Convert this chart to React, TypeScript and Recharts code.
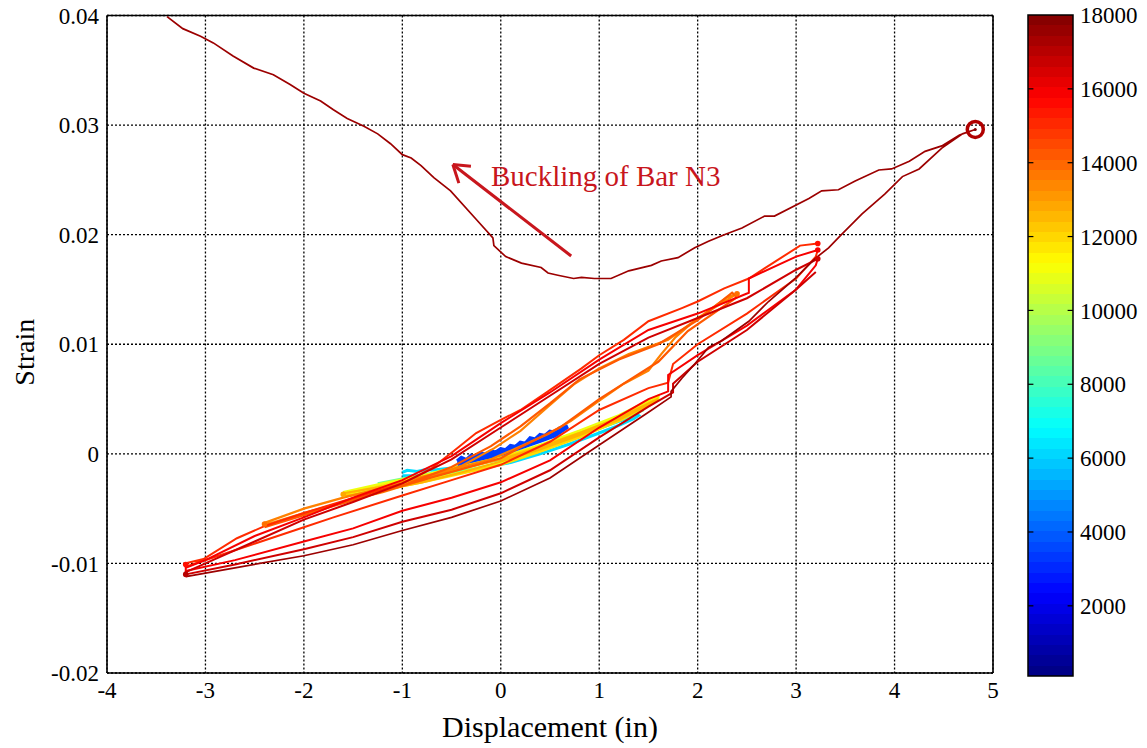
import React from 'react';
import {
  LineChart,
  Line,
  XAxis,
  YAxis,
  CartesianGrid,
  ReferenceLine,
  ReferenceDot,
  ReferenceArea,
} from 'recharts';

type P = [number, number];

// ---------- axes / ticks ----------
const xTicks = [-4, -3, -2, -1, 0, 1, 2, 3, 4, 5];
const yTicks = [-0.02, -0.01, 0, 0.01, 0.02, 0.03, 0.04];
const cbTicks = [2000, 4000, 6000, 8000, 10000, 12000, 14000, 16000, 18000];
const CB_MIN = 100;
const CB_MAX = 18000;

// ---------- series (displacement in, strain) ----------
const blueValue = 3400;
const blueLoop: P[] = [
  [-0.44, -0.0007], [-0.4, -0.0004], [-0.35, -0.0006], [-0.3, -0.0002], [-0.25, -0.0003],
  [-0.2, 0.0], [-0.15, -0.0001], [-0.1, 0.0002], [-0.05, 0.0001], [0, 0.0004], [0.05, 0.0003],
  [0.1, 0.0007], [0.15, 0.0006], [0.2, 0.001], [0.25, 0.0009], [0.3, 0.0014], [0.35, 0.0013],
  [0.4, 0.0017], [0.45, 0.0016], [0.5, 0.002], [0.55, 0.0019], [0.6, 0.0023], [0.68, 0.0025],
  [0.55, 0.0017], [0.4, 0.0012], [0.2, 0.0006], [0, 0.0], [-0.2, -0.0004], [-0.44, -0.0009],
];

const cyanValue = 6200;
const cyanLoop: P[] = [
  [-1.0, -0.0017], [-0.95, -0.0015], [-0.85, -0.0016], [-0.75, -0.0014], [-0.7, -0.0015],
  [-0.5, -0.0013], [-0.3, -0.001], [0, -0.0005], [0.3, 0.0003], [0.6, 0.0012], [0.9, 0.002],
  [1.15, 0.0028], [1.3, 0.0033], [1.35, 0.0038], [1.4, 0.0035], [1.35, 0.0032], [1.2, 0.0026],
  [1.0, 0.0019], [0.7, 0.0009], [0.4, 0.0], [0.1, -0.0008], [-0.2, -0.0013],
  [-0.5, -0.0018], [-0.8, -0.002], [-1.0, -0.002],
];

const greenValue = 8800;
const greenLoop: P[] = [
  [-1.25, -0.0027], [-0.9, -0.0021], [-0.5, -0.0014], [-0.1, -0.0006], [0.3, 0.0004],
  [0.7, 0.0016], [1.1, 0.0029], [1.45, 0.004], [1.2, 0.003], [0.8, 0.0016], [0.4, 0.0003],
  [0, -0.0008], [-0.4, -0.0016], [-0.8, -0.0023], [-1.25, -0.003],
];

const yellowValue = 11000;
const yellowLoop: P[] = [
  [-1.6, -0.0035], [-1.2, -0.0027], [-0.8, -0.002], [-0.4, -0.0011], [0, -0.0003],
  [0.4, 0.0008], [0.8, 0.0021], [1.2, 0.0035], [1.6, 0.0053], [1.6, 0.0049], [1.2, 0.0031],
  [0.8, 0.0017], [0.4, 0.0004], [0, -0.0008], [-0.4, -0.0017], [-0.8, -0.0025], [-1.2, -0.0032],
  [-1.6, -0.0038],
];

const yellow2Value = 11900;
const yellow2Loop: P[] = [
  [-1.6, -0.0037], [-1.2, -0.0029], [-0.8, -0.0021], [-0.4, -0.0013], [0, -0.0004],
  [0.4, 0.0007], [0.8, 0.0019], [1.2, 0.0033], [1.58, 0.005], [1.55, 0.0046], [1.2, 0.003],
  [0.8, 0.0015], [0.4, 0.0002], [0, -0.001], [-0.4, -0.0018], [-0.8, -0.0026], [-1.2, -0.0033],
  [-1.6, -0.0039],
];

const orange1Value = 12600;
const orange1Loop: P[] = [
  [-1.6, -0.0036], [-1.2, -0.003], [-0.8, -0.0023], [-0.4, -0.0014], [0, -0.0005],
  [0.4, 0.0006], [0.8, 0.0019], [1.2, 0.0033], [1.6, 0.005], [1.55, 0.0047], [1.2, 0.0031],
  [0.8, 0.0017], [0.4, 0.0004], [0, -0.0007], [-0.4, -0.0017], [-0.8, -0.0026], [-1.2, -0.0033],
  [-1.6, -0.0039],
];

const orange2Value = 13500;
const orange2Loop: P[] = [
  [-2.4, -0.0063], [-2.0, -0.005], [-1.6, -0.004], [-1.2, -0.0031], [-0.8, -0.0021],
  [-0.4, -0.0012], [-0.1, -0.0005], [0.13, 0.0004], [0.48, 0.0018], [0.71, 0.003],
  [0.99, 0.0048], [1.25, 0.0064], [1.5, 0.0076], [1.63, 0.0091], [1.77, 0.0106], [2.0, 0.0124],
  [2.2, 0.0135], [2.4, 0.0146], [2.3, 0.0143], [2.1, 0.013], [1.7, 0.0104], [1.3, 0.0091],
  [1.0, 0.0078], [0.75, 0.0064], [0.48, 0.0043], [0.2, 0.0021], [-0.07, 0.0005],
  [-0.4, -0.0011], [-0.8, -0.0024], [-1.2, -0.0035], [-1.6, -0.0044], [-2.0, -0.0054],
  [-2.4, -0.0065],
];

const orange3Value = 14200;
const orange3Loop: P[] = [
  [-2.4, -0.0066], [-2.0, -0.0055], [-1.6, -0.0045], [-1.2, -0.0034], [-0.8, -0.0024],
  [-0.4, -0.0014], [0, -0.0004], [0.2, 0.0006], [0.6, 0.0024], [1.0, 0.005], [1.3, 0.0067],
  [1.6, 0.0084], [1.9, 0.0112], [2.4, 0.0143], [2.35, 0.0147], [2.0, 0.0122], [1.6, 0.01],
  [1.2, 0.0086], [0.8, 0.0068], [0.5, 0.0046], [0.2, 0.0025], [-0.1, 0.0007], [-0.5, -0.0012],
  [-1.0, -0.0029], [-1.5, -0.0042], [-2.0, -0.0056], [-2.4, -0.0067],
];

const red1Value = 15000;
const red1Loop: P[] = [
  [3.22, 0.0192], [3.04, 0.019], [2.52, 0.016], [2.27, 0.0151], [2.0, 0.0139], [1.84, 0.0133],
  [1.5, 0.0121], [1.25, 0.0104], [1.0, 0.009], [0.82, 0.0078], [0.48, 0.0057], [0.2, 0.004],
  [0, 0.0031], [-0.25, 0.0019], [-0.5, 0.0001], [-0.7, -0.0013], [-1.0, -0.0027],
  [-1.3, -0.0035], [-1.6, -0.0043], [-2.0, -0.0054], [-2.4, -0.0066], [-2.68, -0.0077],
  [-3.02, -0.0096], [-3.21, -0.01], [-3.2, -0.0103], [-2.7, -0.0088], [-2.0, -0.0067],
  [-1.7, -0.0058], [-1.0, -0.0038], [-0.5, -0.0024], [0, -0.001], [0.5, 0.0011],
  [1.0, 0.004], [1.5, 0.006], [1.7, 0.0065], [1.75, 0.0082], [2.0, 0.01], [2.5, 0.0128],
  [3.0, 0.016], [3.2, 0.018], [3.22, 0.0186],
];

const red2Value = 15900;
const red2Loop: P[] = [
  [3.22, 0.0186], [3.0, 0.018], [2.52, 0.016], [2.52, 0.0147], [2.0, 0.0128], [1.5, 0.0113],
  [1.0, 0.0086], [0.5, 0.0056], [0, 0.0028], [-0.5, -0.0002], [-1.0, -0.0024], [-1.5, -0.004],
  [-2.0, -0.0058], [-2.5, -0.0075], [-3.0, -0.0097], [-3.2, -0.0104], [-3.2, -0.0107],
  [-2.7, -0.0097], [-2.0, -0.008], [-1.5, -0.0068], [-1.0, -0.0052], [-0.5, -0.004],
  [0, -0.0026], [0.5, -0.0006], [1.0, 0.0024], [1.5, 0.005], [1.7, 0.0057], [1.7, 0.0072],
  [2.0, 0.009], [2.5, 0.0117], [3.0, 0.015], [3.2, 0.0172], [3.22, 0.0178],
];

const red3Value = 16600;
const red3Loop: P[] = [
  [3.22, 0.0178], [3.0, 0.0168], [2.5, 0.0142], [2.0, 0.0124], [1.5, 0.0106], [1.0, 0.0082],
  [0.5, 0.0053], [0, 0.0024], [-0.5, -0.0005], [-1.0, -0.0027], [-1.5, -0.0044], [-2.0, -0.006],
  [-2.5, -0.008], [-3.0, -0.01], [-3.2, -0.0108], [-3.2, -0.011], [-2.7, -0.0101],
  [-2.0, -0.0087], [-1.5, -0.0076], [-1.0, -0.0062], [-0.5, -0.0051], [0, -0.0036],
  [0.5, -0.0015], [1.0, 0.0015], [1.5, 0.0043], [1.75, 0.0056], [1.75, 0.0064], [2.0, 0.0084],
  [2.5, 0.0113], [3.0, 0.015], [3.2, 0.0166],
];

const bucklingValue = 17500;
const bucklingPath: P[] = [
  [-3.2, -0.0112], [-2.7, -0.0104], [-2.0, -0.0093], [-1.5, -0.0083], [-1.0, -0.007],
  [-0.5, -0.0058], [0, -0.0043], [0.5, -0.0022], [1.0, 0.0008], [1.5, 0.0038], [1.73, 0.0052],
  [1.73, 0.0057], [1.84, 0.0069], [1.97, 0.0082], [2.11, 0.0097], [2.24, 0.0103],
  [2.52, 0.0121], [2.72, 0.0139], [2.99, 0.016], [3.19, 0.0178], [3.33, 0.0188], [3.46, 0.02],
  [3.67, 0.0219], [3.9, 0.0237], [4.08, 0.0253], [4.25, 0.026], [4.48, 0.0279], [4.69, 0.0292],
  [4.82, 0.0296], [4.66, 0.0291], [4.48, 0.0281], [4.31, 0.0276], [4.15, 0.0267],
  [3.97, 0.026], [3.84, 0.0259], [3.6, 0.0249], [3.43, 0.0241], [3.26, 0.024], [3.13, 0.0233],
  [2.78, 0.0217], [2.68, 0.0217], [2.45, 0.0206], [2.27, 0.02], [2.11, 0.0194], [1.97, 0.0188],
  [1.8, 0.0179], [1.63, 0.0176], [1.53, 0.0172], [1.3, 0.0167], [1.12, 0.016], [0.95, 0.016],
  [0.82, 0.0161], [0.74, 0.016], [0.58, 0.0163], [0.48, 0.0165], [0.41, 0.017], [0.21, 0.0174],
  [0.05, 0.018], [-0.07, 0.019], [-0.08, 0.0197], [-0.23, 0.0212], [-0.51, 0.024],
  [-0.68, 0.0252], [-0.81, 0.0263], [-0.91, 0.027], [-1.0, 0.0273], [-1.12, 0.0283],
  [-1.25, 0.0292], [-1.39, 0.0299], [-1.56, 0.0306], [-1.7, 0.0314], [-1.83, 0.0322],
  [-2.0, 0.0329], [-2.14, 0.0337], [-2.31, 0.0346], [-2.51, 0.0352], [-2.72, 0.0363],
  [-2.92, 0.0375], [-3.05, 0.0381], [-3.23, 0.0388], [-3.39, 0.0399],
];

// small end-of-cycle marks: [x, y, value]
const markers: [number, number, number][] = [
  [-2.4, -0.0064, 13800], [-1.6, -0.0037, 12800], [-3.2, -0.0101, 15500], [-3.2, -0.011, 17000],
  [3.22, 0.0192, 15500], [3.22, 0.0186, 15900], [3.22, 0.0178, 16600], [2.4, 0.0146, 13800],
];

// ultimate point and annotation
const peakPoint: P = [4.82, 0.0296];
const annotationText = 'Buckling of Bar N3';
const annotationAt: P = [-0.1, 0.0244];
const arrowTail: P = [0.715, 0.01805];
const arrowTip: P = [-0.487, 0.0264];
const arrowArmA: P = [-0.303, 0.02625];
const arrowArmB: P = [-0.426, 0.0247];

const seriesValues = [
  cyanValue, greenValue, yellowValue, yellow2Value, orange1Value, blueValue, orange2Value,
  orange3Value, red1Value, red2Value, red3Value, bucklingValue,
];
const seriesPoints = [
  cyanLoop, greenLoop, yellowLoop, yellow2Loop, orange1Loop, blueLoop, orange2Loop,
  orange3Loop, red1Loop, red2Loop, red3Loop, bucklingPath,
];
const seriesWidths = [3, 2.5, 2.6, 2.4, 2.2, 4.5, 2.2, 2.2, 2, 2, 2, 1.7];

// ---------- helpers ----------
const FONT = "'Liberation Serif','Times New Roman',Times,serif";

function jet(v: number): string {
  const t = (v - CB_MIN) / (CB_MAX - CB_MIN);
  const c = (u: number) => Math.round(255 * Math.max(0, Math.min(1, u)));
  return `rgb(${c(1.5 - Math.abs(4 * t - 3))},${c(1.5 - Math.abs(4 * t - 2))},${c(
    1.5 - Math.abs(4 * t - 1),
  )})`;
}

const series = seriesPoints.map((pts, i) => ({
  key: `s${i}`,
  color: jet(seriesValues[i]),
  width: seriesWidths[i],
  data: pts.map(([x, y]) => ({ x, y })),
}));

const gradientStops: { offset: string; color: string }[] = [];
const NSTEP = 64;
for (let i = 0; i < NSTEP; i++) {
  const col = jet(CB_MIN + ((i + 0.5) / NSTEP) * (CB_MAX - CB_MIN));
  gradientStops.push({ offset: `${(i / NSTEP) * 100}%`, color: col });
  gradientStops.push({ offset: `${((i + 1) / NSTEP) * 100}%`, color: col });
}

const colorbarData = [
  { x: 0, v: CB_MIN },
  { x: 1, v: CB_MAX },
];

const tickStyle = { fill: '#000', fontSize: 23, fontFamily: FONT };
const annoColor = '#c8161d';

export default function App() {
  return (
    <div style={{ position: 'absolute', left: 0, top: 0, width: 1147, height: 748, background: '#fff' }}>
      <div style={{ position: 'absolute', left: 0, top: 0 }}>
        <LineChart width={1147} height={748} margin={{ top: 15.5, right: 154, bottom: 0, left: 7 }}>
          <CartesianGrid stroke="#000" strokeWidth={1.3} strokeDasharray="2 2" />
          <XAxis
            dataKey="x"
            type="number"
            domain={[-4, 5]}
            ticks={xTicks}
            interval={0}
            allowDataOverflow
            height={75}
            tickSize={0}
            tickMargin={9}
            tickLine={false}
            axisLine={{ stroke: '#000', strokeWidth: 1.6 }}
            tick={tickStyle}
            label={{
              content: (props: any) => {
                const vb = props.viewBox;
                return (
                  <text
                    x={vb.x + vb.width / 2}
                    y={vb.y + 64}
                    textAnchor="middle"
                    fontSize={30}
                    fontFamily={FONT}
                    fill="#000"
                  >
                    Displacement (in)
                  </text>
                );
              },
            }}
          />
          <YAxis
            type="number"
            domain={[-0.02, 0.04]}
            ticks={yTicks}
            interval={0}
            allowDataOverflow
            width={100}
            tickSize={0}
            tickMargin={8}
            tickLine={false}
            axisLine={{ stroke: '#000', strokeWidth: 1.6 }}
            tick={tickStyle}
            tickFormatter={(v: number) => (v === 0 ? '0' : String(v))}
            label={{
              content: (props: any) => {
                const vb = props.viewBox;
                const cx = vb.x + 17;
                const cy = vb.y + vb.height / 2 + 8;
                return (
                  <text
                    x={cx}
                    y={cy}
                    transform={`rotate(-90, ${cx}, ${cy})`}
                    textAnchor="middle"
                    dominantBaseline="central"
                    fontSize={28}
                    fontFamily={FONT}
                    fill="#000"
                  >
                    Strain
                  </text>
                );
              },
            }}
          />
          <ReferenceLine y={0.04} stroke="#000" strokeWidth={1.6} />
          <ReferenceLine x={5} stroke="#000" strokeWidth={1.6} />
          {series.map((s) => (
            <Line
              key={s.key}
              data={s.data}
              dataKey="y"
              type="linear"
              stroke={s.color}
              strokeWidth={s.width}
              dot={false}
              activeDot={false}
              isAnimationActive={false}
            />
          ))}
          {markers.map(([x, y, v], i) => (
            <ReferenceDot key={`m${i}`} x={x} y={y} r={2.8} fill={jet(v)} stroke="none" />
          ))}
          <ReferenceDot x={peakPoint[0]} y={peakPoint[1]} r={8} fill="none" stroke="#b00000" strokeWidth={3.5} />
          <ReferenceDot x={peakPoint[0]} y={peakPoint[1]} r={1.5} fill="#800000" stroke="none" />
          <ReferenceLine
            segment={[{ x: arrowTail[0], y: arrowTail[1] }, { x: arrowTip[0], y: arrowTip[1] }]}
            stroke={annoColor}
            strokeWidth={3}
          />
          <ReferenceLine
            segment={[{ x: arrowTip[0], y: arrowTip[1] }, { x: arrowArmA[0], y: arrowArmA[1] }]}
            stroke={annoColor}
            strokeWidth={3}
          />
          <ReferenceLine
            segment={[{ x: arrowTip[0], y: arrowTip[1] }, { x: arrowArmB[0], y: arrowArmB[1] }]}
            stroke={annoColor}
            strokeWidth={3}
          />
          <ReferenceDot
            x={annotationAt[0]}
            y={annotationAt[1]}
            r={0}
            fill="none"
            stroke="none"
            label={{
              content: (props: any) => {
                const vb = props.viewBox;
                return (
                  <text x={vb.x} y={vb.y} fontSize={29} fontFamily={FONT} fill={annoColor}>
                    {annotationText}
                  </text>
                );
              },
            }}
          />
        </LineChart>
      </div>
      <div style={{ position: 'absolute', left: 0, top: 0 }}>
        <LineChart
          width={1147}
          height={748}
          data={colorbarData}
          margin={{ top: 15, right: 0, bottom: 72, left: 1028 }}
        >
          <defs>
            <linearGradient id="jetGrad" x1="0" y1="1" x2="0" y2="0">
              {gradientStops.map((g, i) => (
                <stop key={i} offset={g.offset} stopColor={g.color} />
              ))}
            </linearGradient>
          </defs>
          <XAxis type="number" dataKey="x" domain={[0, 1]} hide />
          <YAxis
            type="number"
            orientation="right"
            domain={[CB_MIN, CB_MAX]}
            ticks={cbTicks}
            interval={0}
            width={74}
            tickSize={0}
            tickMargin={7}
            tickLine={false}
            axisLine={false}
            tick={tickStyle}
          />
          <Line dataKey="v" stroke="none" strokeOpacity={0} dot={false} activeDot={false} isAnimationActive={false} />
          <ReferenceArea
            x1={0}
            x2={1}
            y1={CB_MIN}
            y2={CB_MAX}
            fill="url(#jetGrad)"
            fillOpacity={1}
            stroke="#000"
            strokeWidth={1.5}
          />
          {cbTicks.slice(0, -1).map((t) => (
            <ReferenceLine key={`l${t}`} segment={[{ x: 0, y: t }, { x: 0.12, y: t }]} stroke="#000" strokeWidth={1.2} />
          ))}
          {cbTicks.slice(0, -1).map((t) => (
            <ReferenceLine key={`r${t}`} segment={[{ x: 0.88, y: t }, { x: 1, y: t }]} stroke="#000" strokeWidth={1.2} />
          ))}
        </LineChart>
      </div>
    </div>
  );
}
